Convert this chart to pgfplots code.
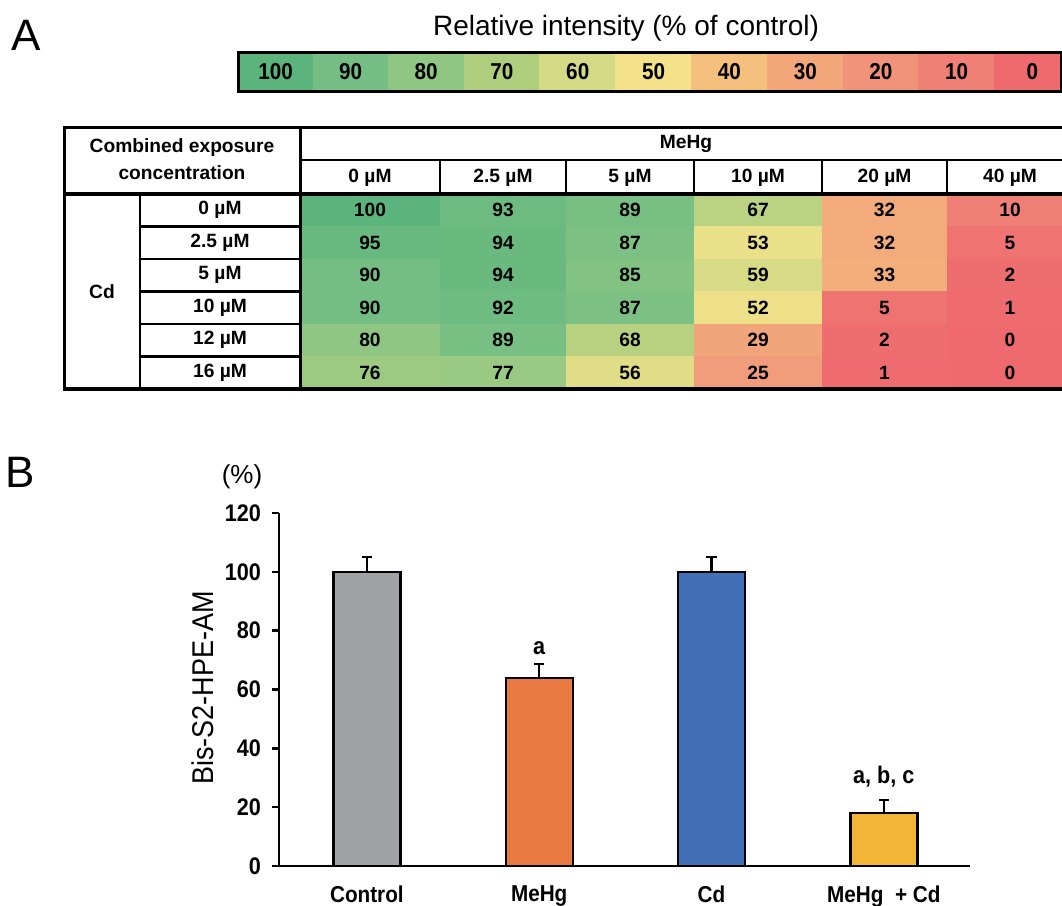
\documentclass[border=0pt]{standalone}
\usepackage{pgfplots}
\pgfplotsset{compat=1.18}
\usepackage{pgfplotstable}
\usepackage{fontspec}
\setmainfont{Liberation Sans}
\newfontfamily\narrow[FakeStretch=0.9]{Liberation Sans}
\definecolor{cgray}{RGB}{160,162,166}
\definecolor{corange}{RGB}{232,122,66}
\definecolor{cblue}{RGB}{65,112,184}
\definecolor{cyellow}{RGB}{242,181,53}
\pgfplotsset{
  colormap={heat}{rgb255=(238,106,110) rgb255=(240,127,117) rgb255=(241,146,122) rgb255=(242,166,122) rgb255=(245,192,126) rgb255=(244,226,138) rgb255=(212,218,133) rgb255=(175,207,127) rgb255=(143,198,131) rgb255=(116,190,131) rgb255=(91,180,124)}
}
\newcommand\tabf{\bfseries\fontsize{9.6}{11}\selectfont}
\newcommand\cbf{\narrow\bfseries\fontsize{11.5}{13}\selectfont}
\newcommand\barf{\narrow\bfseries\fontsize{12}{14}\selectfont}

% heat map cells (4 corners each): x y value
\pgfplotstableread{
x y c
300 194 100
440 194 100
440 226.5 100
300 226.5 100
440 194 93
566 194 93
566 226.5 93
440 226.5 93
566 194 89
694 194 89
694 226.5 89
566 226.5 89
694 194 67
822 194 67
822 226.5 67
694 226.5 67
822 194 32
947 194 32
947 226.5 32
822 226.5 32
947 194 10
1073 194 10
1073 226.5 10
947 226.5 10
300 226.5 95
440 226.5 95
440 259 95
300 259 95
440 226.5 94
566 226.5 94
566 259 94
440 259 94
566 226.5 87
694 226.5 87
694 259 87
566 259 87
694 226.5 53
822 226.5 53
822 259 53
694 259 53
822 226.5 32
947 226.5 32
947 259 32
822 259 32
947 226.5 5
1073 226.5 5
1073 259 5
947 259 5
300 259 90
440 259 90
440 291.5 90
300 291.5 90
440 259 94
566 259 94
566 291.5 94
440 291.5 94
566 259 85
694 259 85
694 291.5 85
566 291.5 85
694 259 59
822 259 59
822 291.5 59
694 291.5 59
822 259 33
947 259 33
947 291.5 33
822 291.5 33
947 259 2
1073 259 2
1073 291.5 2
947 291.5 2
300 291.5 90
440 291.5 90
440 324 90
300 324 90
440 291.5 92
566 291.5 92
566 324 92
440 324 92
566 291.5 87
694 291.5 87
694 324 87
566 324 87
694 291.5 52
822 291.5 52
822 324 52
694 324 52
822 291.5 5
947 291.5 5
947 324 5
822 324 5
947 291.5 1
1073 291.5 1
1073 324 1
947 324 1
300 324 80
440 324 80
440 356.5 80
300 356.5 80
440 324 89
566 324 89
566 356.5 89
440 356.5 89
566 324 68
694 324 68
694 356.5 68
566 356.5 68
694 324 29
822 324 29
822 356.5 29
694 356.5 29
822 324 2
947 324 2
947 356.5 2
822 356.5 2
947 324 0
1073 324 0
1073 356.5 0
947 356.5 0
300 356.5 76
440 356.5 76
440 389 76
300 389 76
440 356.5 77
566 356.5 77
566 389 77
440 389 77
566 356.5 56
694 356.5 56
694 389 56
566 389 56
694 356.5 25
822 356.5 25
822 389 25
694 389 25
822 356.5 1
947 356.5 1
947 389 1
822 389 1
947 356.5 0
1073 356.5 0
1073 389 0
947 389 0
}\heatcells

\pgfplotstableread{
x y v
370 210.25 100
503 210.25 93
630 210.25 89
758 210.25 67
884.5 210.25 32
1010 210.25 10
370 242.75 95
503 242.75 94
630 242.75 87
758 242.75 53
884.5 242.75 32
1010 242.75 5
370 275.25 90
503 275.25 94
630 275.25 85
758 275.25 59
884.5 275.25 33
1010 275.25 2
370 307.75 90
503 307.75 92
630 307.75 87
758 307.75 52
884.5 307.75 5
1010 307.75 1
370 340.25 80
503 340.25 89
630 340.25 68
758 340.25 29
884.5 340.25 2
1010 340.25 0
370 372.75 76
503 372.75 77
630 372.75 56
758 372.75 25
884.5 372.75 1
1010 372.75 0
}\heatlabels

\pgfplotstableread{
x y c
238 52 100
313.3 52 100
313.3 91 100
238 91 100
313.3 52 90
388.1 52 90
388.1 91 90
313.3 91 90
388.1 52 80
464 52 80
464 91 80
388.1 91 80
464 52 70
539.8 52 70
539.8 91 70
464 91 70
539.8 52 60
615.7 52 60
615.7 91 60
539.8 91 60
615.7 52 50
691.5 52 50
691.5 91 50
615.7 91 50
691.5 52 40
767.4 52 40
767.4 91 40
691.5 91 40
767.4 52 30
843.3 52 30
843.3 91 30
767.4 91 30
843.3 52 20
918.6 52 20
918.6 91 20
843.3 91 20
918.6 52 10
994.5 52 10
994.5 91 10
918.6 91 10
994.5 52 0
1061 52 0
1061 91 0
994.5 91 0
}\barcells

\pgfplotstableread{
x y v
275.65 71.5 100
350.7 71.5 90
426.05 71.5 80
501.9 71.5 70
577.75 71.5 60
653.6 71.5 50
729.45 71.5 40
805.35 71.5 30
880.95 71.5 20
956.55 71.5 10
1032.4 71.5 0
}\barlabels

\begin{document}
\begin{tikzpicture}
\useasboundingbox (0,0) rectangle (531pt,-453pt);
\clip (0,0) rectangle (531pt,-453pt);

% colour scale
\begin{axis}[at={(119pt,-26pt)}, anchor=north west, scale only axis,
  width=411.5pt, height=19.5pt, xmin=238, xmax=1061, ymin=52, ymax=91,
  y dir=reverse, hide axis, clip=false,
  point meta min=0, point meta max=100,
  /pgf/number format/assume math mode=true]
\addplot[patch, patch type=rectangle, shader=faceted, faceted color=mapped color,
  point meta=explicit] table[x=x, y=y, meta=c] {\barcells};
\addplot[draw=none, mark=none, point meta=explicit, nodes near coords,
  nodes near coords align={center},
  every node near coord/.append style={font=\cbf, text=black, anchor=center}]
  table[x=x, y=y, meta=v] {\barlabels};
\end{axis}

% heat map
\begin{axis}[at={(150pt,-97pt)}, anchor=north west, scale only axis,
  width=386.5pt, height=97.5pt, xmin=300, xmax=1073, ymin=194, ymax=389,
  y dir=reverse, hide axis, clip=false,
  point meta min=0, point meta max=100,
  /pgf/number format/assume math mode=true]
\addplot[patch, patch type=rectangle, shader=faceted, faceted color=mapped color,
  point meta=explicit] table[x=x, y=y, meta=c] {\heatcells};
\addplot[draw=none, mark=none, point meta=explicit, nodes near coords,
  nodes near coords align={center},
  every node near coord/.append style={font=\tabf, text=black, anchor=center}]
  table[x=x, y=y, meta=v] {\heatlabels};
\end{axis}

% bar chart
\begin{axis}[at={(139.5pt,-433pt)}, anchor=south west, scale only axis,
  width=345.5pt, height=176.5pt,
  xmin=-0.51, xmax=3.5, ymin=0, ymax=120,
  axis x line*=bottom, axis y line*=left,
  axis line style={line width=1.3pt, black},
  ytick={0,20,40,60,80,100,120}, xtick={0,1,2,3},
  xticklabels={Control, MeHg, Cd, MeHg~~+ Cd},
  tick align=outside, major tick length=3.5pt,
  ytick style={line width=1.3pt, black}, xtick style={draw=none},
  /pgf/number format/assume math mode=true,
  yticklabel style={font=\barf, xshift=-2pt},
  xticklabel style={font=\narrow\bfseries\fontsize{11.5}{13}\selectfont, yshift=-3pt},
  ylabel={Bis-S2-HPE-AM},
  ylabel style={font=\narrow\fontsize{15}{18}\selectfont,
    at={(axis description cs:-0.111,0.504)}, anchor=center},
  every error bar/.style={line width=1.1pt, black},
  clip=false]
\addplot[ybar, bar width=33.5pt, bar shift=0pt, fill=cgray, draw=black, line width=1.2pt,
  error bars/.cd, y dir=plus, y explicit, error mark=-,
  error mark options={rotate=90, line width=1.1pt, black, mark size=2.6pt}]
  coordinates {(0,100) +- (0,5)};
\addplot[ybar, bar width=33.5pt, bar shift=0pt, fill=corange, draw=black, line width=1.2pt,
  error bars/.cd, y dir=plus, y explicit, error mark=-,
  error mark options={rotate=90, line width=1.1pt, black, mark size=2.6pt}]
  coordinates {(1,64) +- (0,4.7)};
\addplot[ybar, bar width=33.5pt, bar shift=0pt, fill=cblue, draw=black, line width=1.2pt,
  error bars/.cd, y dir=plus, y explicit, error mark=-,
  error mark options={rotate=90, line width=1.1pt, black, mark size=2.6pt}]
  coordinates {(2,100) +- (0,5)};
\addplot[ybar, bar width=33.5pt, bar shift=0pt, fill=cyellow, draw=black, line width=1.2pt,
  error bars/.cd, y dir=plus, y explicit, error mark=-,
  error mark options={rotate=90, line width=1.1pt, black, mark size=2.6pt}]
  coordinates {(3,18) +- (0,4.5)};
\node[font=\barf] at (axis cs:1,74.2) {a};
\node[font=\barf] at (axis cs:3,30.4) {a, b, c};
\end{axis}

\begin{scope}[x=0.5pt, y=-0.5pt]
% panel letters and titles
\node[anchor=base west, inner sep=0pt, font=\fontsize{22}{26}\selectfont] at (11,50) {A};
\node[anchor=base west, inner sep=0pt, font=\fontsize{22}{26}\selectfont] at (5,487) {B};
\node[anchor=base, inner sep=0pt, font=\fontsize{14}{17}\selectfont] at (626,35) {Relative intensity (\% of control)};
\node[font=\fontsize{13}{15}\selectfont] at (242,477) {(\%)};
% colour-scale border
\draw[line width=1.5pt] (238,52) rectangle (1061,91);
% table lines
\draw[line width=1.5pt] (64,127) -- (1075,127);
\draw[line width=1.7pt] (64,194) -- (1075,194);
\draw[line width=1.7pt] (63,389) -- (1075,389);
\draw[line width=1.5pt] (64,126) -- (64,390);
\draw[line width=1.5pt] (300,127) -- (300,389);
\draw[line width=1.3pt] (300,160) -- (1075,160);
\draw[line width=1.3pt] (140,194) -- (140,389);
\foreach \yy in {226.5,259,291.5,324,356.5} \draw[line width=1.3pt] (140,\yy) -- (300,\yy);
\foreach \xx in {440,566,694,822,947} \draw[line width=1.3pt] (\xx,160) -- (\xx,194);
% table text
\node[font=\tabf] at (182,148) {Combined exposure};
\node[font=\tabf] at (182,173) {concentration};
\node[font=\tabf] at (686,144) {MeHg};
\node[font=\tabf] at (370,178) {0 µM};
\node[font=\tabf] at (503,178) {2.5 µM};
\node[font=\tabf] at (630,178) {5 µM};
\node[font=\tabf] at (758,178) {10 µM};
\node[font=\tabf] at (884.5,178) {20 µM};
\node[font=\tabf] at (1010,178) {40 µM};
\node[font=\tabf] at (220,210.25) {0 µM};
\node[font=\tabf] at (220,242.75) {2.5 µM};
\node[font=\tabf] at (220,275.25) {5 µM};
\node[font=\tabf] at (220,307.75) {10 µM};
\node[font=\tabf] at (220,340.25) {12 µM};
\node[font=\tabf] at (220,372.75) {16 µM};
\node[font=\tabf] at (102,292) {Cd};
\end{scope}
\end{tikzpicture}
\end{document}
